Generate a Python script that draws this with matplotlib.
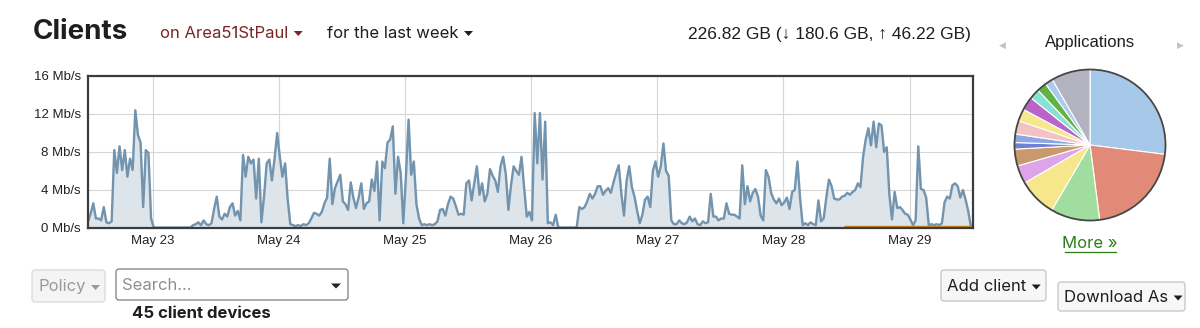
import pandas as pd
import matplotlib
matplotlib.use("Agg")
import matplotlib.pyplot as plt
import matplotlib.dates as mdates
from matplotlib.patches import FancyBboxPatch, Circle

# Client throughput in Mb/s, one reading every 30 min, starting May 22 11:40
day1 = [0.7, 1.5, 2.6, 1.0, 1.0, 0.8, 2.2, 0.6, 0.5, 0.7,
        8.2, 5.8, 8.6, 6.1, 8.2, 5.4, 7.3, 6.1, 12.4, 9.8,
        9.0, 2.2, 8.2, 7.9, 1.0, 0.05, 0.05, 0.05, 0.05, 0.05,
        0.05, 0.05, 0.05, 0.05, 0.05, 0.05, 0.05, 0.05, 0.05, 0.05,
        0.3, 0.4, 0.6, 0.3, 0.8, 0.4, 0.3, 0.5]
day2 = [2.0, 3.3, 1.2, 0.9, 1.5, 1.2, 2.2, 2.6, 1.3, 1.8,
        0.8, 7.7, 5.4, 7.5, 6.8, 7.2, 3.1, 7.3, 0.6, 3.3,
        6.8, 7.2, 5.0, 7.3, 10.0, 7.5, 5.4, 6.8, 3.0, 0.4,
        0.3, 0.2, 0.3, 0.2, 0.4, 0.3, 0.5,
        1.0, 1.6, 1.5, 1.3, 1.7, 2.6, 3.2, 7.3, 2.5, 4.2, 4.9]
day3 = [5.6, 2.8, 2.5, 1.9, 4.8, 3.2, 2.1, 3.2, 4.7,
        2.0, 2.6, 2.8, 5.1, 3.9, 7.0, 0.8, 7.0, 6.3, 9.0,
        9.3, 10.7, 3.6, 7.5, 5.8, 0.5, 5.4, 11.4, 5.6, 7.0,
        2.5, 1.0, 0.3, 0.4, 0.3, 0.4, 0.3, 0.4, 0.7,
        1.9, 2.0, 1.3, 2.5, 3.3, 3.1, 2.3, 1.4, 1.5, 1.4]
day4 = [4.7, 5.0, 2.9, 4.7, 6.5, 3.5, 4.7, 2.8, 3.6, 6.2,
        5.5, 5.0, 3.8, 6.5, 7.5, 5.7, 1.9, 4.5, 6.5, 6.0,
        5.6, 7.5, 4.2, 1.2,
        1.7, 0.8, 12.1, 6.8, 12.1, 5.1, 11.2, 0.5, 0.6, 0.3, 1.4, 0.05,
        0.05, 0.05, 0.05, 0.05, 0.05, 0.05, 0.05,
        2.2, 2.0, 2.2, 2.8, 3.6]
day5 = [3.1, 3.6, 4.4, 4.4, 3.5,
        3.9, 4.2, 3.7, 4.8, 5.8, 6.6, 3.6, 1.3, 5.0, 6.5,
        4.3, 3.3, 1.8, 0.5, 1.4, 3.0, 3.3, 2.2, 6.0, 7.0,
        5.4, 6.5, 8.9, 6.0, 5.5, 0.8, 0.4, 0.4, 0.8, 0.5,
        0.4, 0.6, 1.2, 0.7, 1.0, 0.4, 0.3, 0.7, 0.5, 0.6,
        3.6, 1.2, 1.2]
day6 = [0.8, 1.0, 1.0, 2.6, 1.5, 1.4, 1.4,
        1.2, 1.0, 6.6, 2.5, 4.4,
        2.8, 3.7, 4.1, 3.3, 1.3, 0.8, 6.1, 5.4, 3.7, 3.0,
        2.6, 3.1, 2.4, 2.7, 3.2, 2.0, 3.8, 4.0, 7.0, 3.2,
        0.3, 0.5, 0.3, 0.6, 0.4, 0.3, 2.9, 0.7, 1.0, 3.2,
        5.1, 4.4, 3.1, 3.0, 3.0, 3.3]
day7 = [3.4, 3.7, 3.5, 3.8,
        4.0, 4.7, 4.3, 7.5, 9.3, 10.5, 8.7, 11.2, 8.5, 11.0,
        10.8, 8.0, 8.5, 3.5, 0.9, 3.8, 2.1, 2.2, 1.9, 1.5,
        1.4, 0.9, 0.3, 0.8, 8.6, 4.1, 4.0, 3.2, 0.3, 0.4,
        0.3, 0.4, 0.3, 0.5, 2.7, 3.3, 3.1, 4.5, 4.7, 4.4,
        3.2, 4.0, 3.0, 1.8, 0.2]

rates = day1 + day2 + day3 + day4 + day5 + day6 + day7
times = pd.date_range("2021-05-22 11:40", periods=len(rates), freq="30min")
x_end = pd.Timestamp("2021-05-29 12:05")

# highlighted span at the bottom of the chart
span_start = pd.Timestamp("2021-05-28 11:30")
span_end = pd.Timestamp("2021-05-29 11:30")

y_ticks = [0, 4, 8, 12, 16]
y_labels = [f"{v} Mb/s" for v in y_ticks]

# Applications pie (percent, clockwise from top)
app_share = [27, 21, 10.5, 8.2, 3.9, 3.6, 1.4, 1.8, 2.9, 2.6, 2.9, 2.2, 2.1, 1.7, 8.3]
app_colors = ["#a7c9e9", "#e28a78", "#a2dda0", "#f6e78c", "#dea4ea", "#c9986c",
              "#6f82d2", "#8fa6e4", "#f3c3c3", "#f6e78c", "#bb63cb", "#86e2d3",
              "#63b245", "#abcaf0", "#b3b3bf"]

title = "Clients"
network = "on Area51StPaul"
period = "for the last week"
usage = "226.82 GB (\u2193 180.6 GB, \u2191 46.22 GB)"

ui_font = ["Inter", "DejaVu Sans"]
tick_font = ["Liberation Sans", "DejaVu Sans"]

fig = plt.figure(figsize=(12, 3.28), dpi=100)
renderer = fig.canvas.get_renderer()

# overlay in pixel coords for header / buttons
ui = fig.add_axes([0, 0, 1, 1])
ui.set_xlim(0, 1200)
ui.set_ylim(328, 0)
ui.axis("off")


def caret(x, y, color, w=9, h=5):
    ui.fill([x - w / 2, x + w / 2, x], [y - h / 2, y - h / 2, y + h / 2], color=color, lw=0)


def label(x, y, s, color, with_caret=True, size=12, weight="normal"):
    t = ui.text(x, y, s, fontsize=size, fontweight=weight, family=ui_font, color=color, va="center")
    if with_caret:
        x1 = t.get_window_extent(renderer).x1
        caret(x1 + 10, y + 0.5, color)
    return t


ui.text(33, 32, title, fontsize=20, fontweight="bold", family=ui_font, color="#1e1e1e", va="center")
label(160, 33, network, "#7a2424")
label(327, 33, period, "#1e1e1e")
ui.text(688, 35, usage, fontsize=12.5, family=tick_font, color="#1e1e1e", va="center")
ui.text(1090, 43, "Applications", fontsize=12, family=tick_font, color="#1e1e1e", va="center", ha="center")
ui.text(1002, 45, "\u25c0", fontsize=6.5, family=tick_font, color="#c4c4c4", va="center", ha="center")
ui.text(1180, 45, "\u25b6", fontsize=6.5, family=tick_font, color="#c4c4c4", va="center", ha="center")
ui.text(1090, 244, "More \u00bb", fontsize=12, family=ui_font, color="#2d7d17", va="center", ha="center")
ui.plot([1065, 1116], [252, 252], color="#2d7d17", lw=0.9)


def button(x0, y0, x1, y1, text, face, edge, color, with_caret=True, pad=6):
    ui.add_patch(FancyBboxPatch((x0, y0), x1 - x0, y1 - y0, boxstyle="round,pad=0,rounding_size=3",
                                fc=face, ec=edge, lw=1))
    label(x0 + pad, (y0 + y1) / 2 + 1, text, color, with_caret=with_caret)


button(32, 270, 105, 302, "Policy", "#f4f4f4", "#dcdcdc", "#9a9a9a")
button(116, 269, 348, 300, "Search...", "white", "#8a8a8a", "#8f8f8f", with_caret=False)
caret(336, 286, "#222222", w=10, h=5)
label(132, 313, "45 client devices", "#1e1e1e", with_caret=False, weight="bold")
button(941, 270, 1046, 301, "Add client", "#f7f7f7", "#c9c9c9", "#1e1e1e")
button(1058, 282, 1185, 311, "Download As", "#f7f7f7", "#c9c9c9", "#1e1e1e")

# throughput chart
ax = fig.add_axes([88 / 1200, 1 - 228 / 328, 885 / 1200, 152 / 328])
ax.fill_between(times, rates, color="#dde4ea", zorder=2)
ax.plot(times, rates, color="#7294ae", lw=1.7, zorder=3)
ax.hlines(0.12, span_start, span_end, color="#cc8a14", lw=2.5, zorder=4)
ax.set_ylim(0, 16)
ax.set_xlim(times[0], x_end)
ax.set_yticks(y_ticks)
ax.set_yticklabels(y_labels)
ax.xaxis.set_major_locator(mdates.DayLocator())
ax.xaxis.set_major_formatter(mdates.DateFormatter("%b %d"))
ax.grid(color="#d6d6d6", lw=0.8, zorder=0)
ax.tick_params(length=0, labelsize=9.5, pad=5, colors="#222222")
for lab in ax.get_xticklabels() + ax.get_yticklabels():
    lab.set_family(tick_font)
for sp in ax.spines.values():
    sp.set_color("#3c3c3c")
    sp.set_linewidth(1.6)
    sp.set_zorder(5)

# applications pie
pax = fig.add_axes([1013 / 1200, 1 - 222 / 328, 154 / 1200, 154 / 328])
pax.pie(app_share, colors=app_colors, startangle=90, counterclock=False,
        wedgeprops=dict(edgecolor="white", linewidth=0.8))
pax.add_patch(Circle((0, 0), 1, fill=False, ec="#454545", lw=1.3))
pax.set_xlim(-1.02, 1.02)
pax.set_ylim(-1.02, 1.02)
pax.set_aspect("equal")

fig.savefig("out.png", dpi=100)
